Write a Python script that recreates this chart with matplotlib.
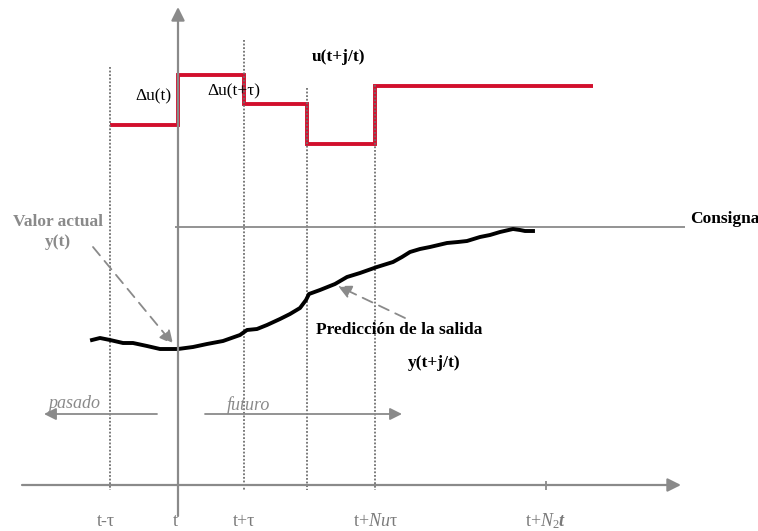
import numpy as np
import matplotlib
matplotlib.use('Agg')
import matplotlib.pyplot as plt

plt.rcParams['font.family'] = ['Liberation Serif', 'DejaVu Serif']
plt.rcParams['mathtext.fontset'] = 'custom'
plt.rcParams['mathtext.rm'] = 'Liberation Serif'
plt.rcParams['mathtext.it'] = 'Liberation Serif:italic'
plt.rcParams['mathtext.bf'] = 'Liberation Serif:bold:italic'

# positions on the time axis (pixel-like units of the sketch)
tick_pos = [110, 178, 244, 375, 546]
tick_labels = ['t-τ', 't', 't+τ', 't+$\\mathit{Nu}$τ', 't+$N_2\\mathbf{t}$']
tick_label_x = [106, 175, 244, 375, 546]

# dotted sampling lines (x, top)
dot_x = [110, 244, 307, 375]
dot_top = [67, 40, 88, 85]

# control signal u(t+j/t) as steps
u_edges = [110, 178, 244, 307, 375, 593]
u_vals = [125, 75, 104, 144, 86]

# setpoint level
consigna_y = 227

# output y(t) then predicted y(t+j/t)
y_x = [92, 100, 110, 123, 133, 147, 160, 178, 193, 207, 223, 240, 247, 257, 267,
       280, 290, 300, 306, 309, 320, 335, 347, 360, 377, 393, 402, 410, 420, 430,
       447, 458, 467, 480, 490, 500, 513, 520, 525, 533]
y_y = [340, 338, 340, 343, 343, 346, 349, 349, 347, 344, 341, 335, 330, 329, 325,
       319, 314, 308, 300, 294, 290, 284, 277, 273, 267, 262, 257, 252, 249, 247,
       243, 242, 241, 237, 235, 232, 229, 230, 231, 231]

grey = '#8a8a8a'
red = '#d20f2d'
fs = 12.5

fig = plt.figure(figsize=(7.58, 5.31), dpi=100)
ax = fig.add_axes([0, 0, 1, 1])
ax.set_xlim(0, 758)
ax.set_ylim(531, 0)
ax.axis('off')

# axes of the sketch
ax.annotate('', xy=(681, 485), xytext=(22, 485),
            arrowprops=dict(arrowstyle='-|>', color=grey, lw=1.6, mutation_scale=20,
                            shrinkA=0, shrinkB=0))
ax.annotate('', xy=(178, 7), xytext=(178, 516),
            arrowprops=dict(arrowstyle='-|>', color=grey, lw=1.6, mutation_scale=20,
                            shrinkA=0, shrinkB=0))

ax.vlines(dot_x, dot_top, 490, colors='#6f6f6f', linestyles=(0, (1, 1)), lw=1.3)
ax.vlines(546, 481, 490, colors=grey, lw=1.3)

for x, lab in zip(tick_label_x, tick_labels):
    ax.text(x, 521, lab, ha='center', va='center', fontsize=13, color='#7a7a7a')

# setpoint
ax.hlines(consigna_y, 175, 685, colors=grey, lw=1.3)
ax.text(690, 219, 'Consigna', fontsize=fs, fontweight='bold', va='center')

# control action
ax.stairs(u_vals, u_edges, baseline=None, color=red, lw=2.8)
ax.text(312, 57, 'u(t+j/t)', fontsize=fs, fontweight='bold', va='center')
ax.text(135, 96, 'Δu(t)', fontsize=fs, va='center')
ax.text(207, 91, 'Δu(t+τ)', fontsize=fs, va='center')

# output
ax.plot(y_x, y_y, color='black', lw=2.8)

ax.text(58, 232, 'Valor actual\ny(t)', fontsize=fs, fontweight='bold', color=grey,
        ha='center', va='center', linespacing=1.25)
ax.annotate('', xy=(173, 344), xytext=(93, 247),
            arrowprops=dict(arrowstyle='-|>', color=grey, lw=1.3, linestyle=(0, (6, 4)),
                            mutation_scale=20, shrinkA=0, shrinkB=0))

ax.text(316, 330, 'Predicción de la salida', fontsize=fs, fontweight='bold', va='center')
ax.text(408, 363, 'y(t+j/t)', fontsize=fs, fontweight='bold', va='center')
ax.annotate('', xy=(338, 286), xytext=(405, 318),
            arrowprops=dict(arrowstyle='-|>', color=grey, lw=1.3, linestyle=(0, (6, 4)),
                            mutation_scale=20, shrinkA=0, shrinkB=0))

# pasado / futuro
ax.text(48, 404, 'pasado', fontsize=13, fontstyle='italic', color=grey, va='center')
ax.annotate('', xy=(44, 414), xytext=(157, 414),
            arrowprops=dict(arrowstyle='-|>', color=grey, lw=1.3, mutation_scale=18,
                            shrinkA=0, shrinkB=0))
ax.text(227, 405, 'futuro', fontsize=13, fontstyle='italic', color=grey, va='center')
ax.annotate('', xy=(402, 414), xytext=(205, 414),
            arrowprops=dict(arrowstyle='-|>', color=grey, lw=1.3, mutation_scale=18,
                            shrinkA=0, shrinkB=0))

fig.savefig('out.png', dpi=100)
